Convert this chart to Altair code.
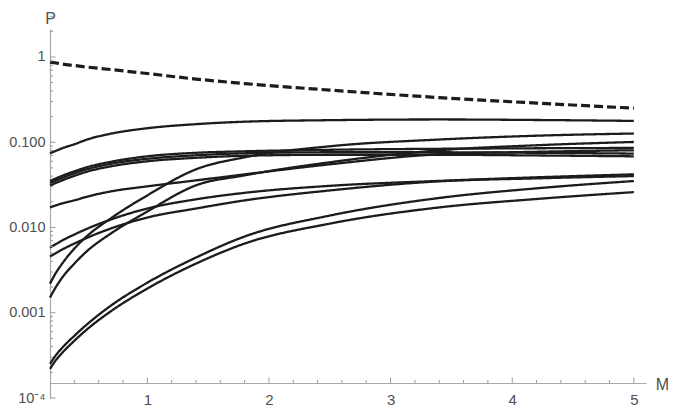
import altair as alt
import pandas as pd

# Mass values at which curves are sampled
M = [0.2, 0.25, 0.3, 0.4, 0.5, 0.7, 1.0, 1.4, 1.8, 2.5, 3.4, 4.2, 5.0]

total = [0.873, 0.850, 0.827, 0.794, 0.763, 0.713, 0.640, 0.551, 0.488, 0.409, 0.334, 0.288, 0.251]
curve_A = [0.0742, 0.0794, 0.0850, 0.0947, 0.107, 0.126, 0.146, 0.163, 0.1742, 0.1815, 0.185, 0.1824, 0.178]
curve_B1 = [0.0351, 0.0377, 0.0404, 0.0456, 0.0508, 0.0590, 0.0684, 0.0752, 0.0783, 0.0816, 0.0838, 0.0850, 0.0857]
curve_B2 = [0.0332, 0.0357, 0.0382, 0.0432, 0.0481, 0.0559, 0.0639, 0.0703, 0.0742, 0.0763, 0.0763, 0.0752, 0.0736]
curve_B3 = [0.0310, 0.0334, 0.0357, 0.0404, 0.0450, 0.0522, 0.0598, 0.0657, 0.0694, 0.0713, 0.0713, 0.0700, 0.0684]
curve_C = [0.0172, 0.0182, 0.0192, 0.0208, 0.0229, 0.0265, 0.0304, 0.0357, 0.0420, 0.0551, 0.0723, 0.0773, 0.0805]
curve_E = [0.00582, 0.00639, 0.00703, 0.00827, 0.0096, 0.0124, 0.0167, 0.0214, 0.0255, 0.0308, 0.0352, 0.0388, 0.0420]
curve_F = [0.00456, 0.00501, 0.00551, 0.00648, 0.00752, 0.00973, 0.0131, 0.0167, 0.0208, 0.0272, 0.0348, 0.0377, 0.0401]
curve_G = [0.00219, 0.00296, 0.00377, 0.00566, 0.00784, 0.0128, 0.0238, 0.0481, 0.0666, 0.0897, 0.1076, 0.1193, 0.1266]
curve_H = [0.00151, 0.00202, 0.00258, 0.00377, 0.00522, 0.0085, 0.0154, 0.0312, 0.0409, 0.0582, 0.0805, 0.0922, 0.1008]
curve_I = [0.000251, 0.00032, 0.000388, 0.000536, 0.000722, 0.00121, 0.00225, 0.00444, 0.00784, 0.0138, 0.0222, 0.0288, 0.0351]
curve_J = [0.000219, 0.00028, 0.000338, 0.000469, 0.000631, 0.00104, 0.00192, 0.00377, 0.00648, 0.0111, 0.0172, 0.0216, 0.0260]

# Axis tick positions
x_major = [1, 2, 3, 4, 5]
x_minor = [round(0.2 * k, 1) for k in range(2, 26) if k % 5 != 0]
y_labels = [1e-4, 1e-3, 1e-2, 1e-1, 1]
y_minor = [d * 10.0 ** e for e in range(-4, 1) for d in range(2, 10)] + [2.0]

series = {
    "total": total, "A": curve_A, "B1": curve_B1, "B2": curve_B2, "B3": curve_B3,
    "C": curve_C, "E": curve_E, "F": curve_F, "G": curve_G, "H": curve_H,
    "I": curve_I, "J": curve_J,
}
rows = []
for name, vals in series.items():
    for m, p in zip(M, vals):
        rows.append({"curve": name, "M": m, "P": p,
                     "style": "dashed" if name == "total" else "solid"})
df = pd.DataFrame(rows)

W, H = 596, 369
XAX_Y = H - 15  # pixel row of the horizontal axis inside the plot
FONT = "Liberation Sans"
AX = "#a9a9a9"
TICK = "#9a9a9a"
LAB = "#505050"

x_scale = alt.Scale(domain=[0.2, 5.1], nice=False, zero=False)
y_scale = alt.Scale(type="log", domain=[1e-4, 2.13], nice=False)

lines = alt.Chart(df).mark_line(interpolate="monotone", color="#1c1c1c").encode(
    x=alt.X("M:Q", scale=x_scale, axis=alt.Axis(
        orient="bottom", offset=-15, values=x_major, ticks=False, grid=False,
        domainColor=AX, domainWidth=1.2, labelColor=LAB, labelFont=FONT, labelFontSize=15,
        labelPadding=9, labelFlush=False, labelOverlap=False,
        title="M", titleAngle=0, titleX=612, titleY=1, titleAlign="center",
        titleBaseline="middle", titleFont=FONT, titleFontSize=16,
        titleFontWeight="normal", titleColor=LAB)),
    y=alt.Y("P:Q", scale=y_scale, axis=alt.Axis(
        orient="left", values=y_labels, ticks=False, grid=False,
        domainColor=AX, domainWidth=1.2, labelColor=LAB, labelFont=FONT, labelFontSize=14.5,
        labelPadding=5, labelFlush=False, labelOverlap=False,
        labelExpr="datum.value < 0.0005 ? '10⁻⁴' : (datum.value > 0.5 ? '1' : format(datum.value, '.3f'))",
        title="P", titleAngle=0, titleX=0, titleY=-11, titleAlign="center",
        titleBaseline="middle", titleFont=FONT, titleFontSize=16,
        titleFontWeight="normal", titleColor=LAB)),
    detail="curve:N",
    strokeDash=alt.StrokeDash("style:N", scale=alt.Scale(domain=["solid", "dashed"],
                                                          range=[[1, 0], [9, 4]]), legend=None),
    strokeWidth=alt.StrokeWidth("style:N", scale=alt.Scale(domain=["solid", "dashed"],
                                                            range=[2.3, 3.2]), legend=None),
)


def x_ticks(vals, length):
    return alt.Chart(pd.DataFrame({"M": vals})).mark_rule(color=TICK, strokeWidth=1).encode(
        x=alt.X("M:Q", scale=x_scale, axis=None),
        y=alt.value(XAX_Y), y2=alt.value(XAX_Y - length))


def y_ticks(vals, length):
    return alt.Chart(pd.DataFrame({"P": vals})).mark_rule(color=TICK, strokeWidth=1).encode(
        y=alt.Y("P:Q", scale=y_scale, axis=None),
        x=alt.value(0), x2=alt.value(length))


chart = alt.layer(
    lines,
    x_ticks(x_minor, 3), x_ticks(x_major, 5.5),
    y_ticks(y_minor, 3), y_ticks(y_labels, 5.5),
).resolve_axis(x="independent", y="independent").properties(
    width=W, height=H,
    autosize=alt.AutoSizeParams(type="none"),
    padding={"left": 42, "top": 21, "right": 23, "bottom": 8},
).configure_view(stroke=None)

chart.save("out.html", embed_options={"renderer": "svg", "actions": False})
